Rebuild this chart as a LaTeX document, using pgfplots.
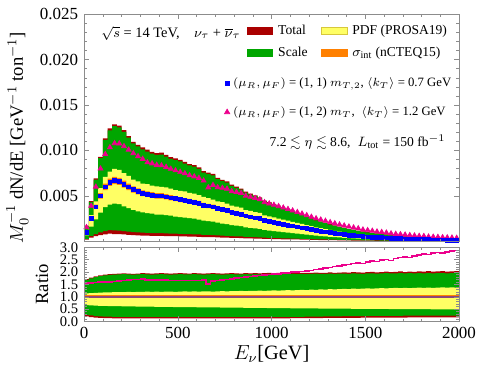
\documentclass[border=0pt]{standalone}
\usepackage{amssymb}
\usepackage{fontspec}
\setmainfont{Liberation Serif}
\usepackage{pgfplots}
\usepackage{pgfplotstable}
\pgfplotsset{compat=1.18}
\usepgfplotslibrary{fillbetween}

\definecolor{tred}{RGB}{170,0,0}
\definecolor{sgreen}{RGB}{0,166,0}
\definecolor{pyel}{RGB}{255,255,100}
\definecolor{pyeldark}{RGB}{215,200,60}
\definecolor{iorange}{RGB}{255,128,0}
\definecolor{cpurple}{RGB}{140,70,120}

% bin left edge, central value, band ratios (total/scale/pdf up & down), magenta ratio
\pgfplotstableread{
E c tu su pu pl sl tl m
0 0.0010 1.71 1.68 1.14 0.66 0.27 0.20 1.55
25 0.0025 1.77 1.74 1.15 0.65 0.24 0.17 1.56
50 0.0038 1.82 1.79 1.16 0.64 0.21 0.15 1.58
75 0.0050 1.86 1.83 1.17 0.63 0.20 0.14 1.60
100 0.0060 1.89 1.86 1.18 0.63 0.19 0.13 1.60
125 0.0065 1.91 1.88 1.18 0.62 0.19 0.13 1.59
150 0.0067 1.92 1.89 1.19 0.62 0.18 0.12 1.61
175 0.0066 1.93 1.90 1.19 0.62 0.18 0.12 1.63
200 0.0063 1.94 1.91 1.19 0.61 0.18 0.12 1.66
225 0.0060 1.93 1.90 1.20 0.61 0.18 0.12 1.68
250 0.0057 1.92 1.89 1.19 0.61 0.18 0.12 1.70
275 0.0055 1.93 1.90 1.20 0.60 0.18 0.12 1.70
300 0.0053 1.95 1.91 1.20 0.60 0.18 0.12 1.71
325 0.0052 1.94 1.90 1.21 0.60 0.18 0.12 1.67
350 0.0051 1.93 1.89 1.20 0.60 0.18 0.12 1.68
375 0.0050 1.94 1.90 1.21 0.59 0.18 0.12 1.68
400 0.0050 1.95 1.91 1.20 0.59 0.18 0.12 1.67
425 0.0049 1.94 1.90 1.21 0.59 0.18 0.12 1.67
450 0.0048 1.93 1.89 1.21 0.59 0.18 0.12 1.66
475 0.0047 1.94 1.90 1.20 0.58 0.18 0.12 1.66
500 0.0046 1.95 1.91 1.21 0.58 0.18 0.12 1.66
525 0.0045 1.94 1.90 1.22 0.58 0.18 0.12 1.66
550 0.0044 1.93 1.90 1.21 0.58 0.18 0.12 1.65
575 0.0043 1.95 1.91 1.22 0.58 0.18 0.12 1.66
600 0.0042 1.94 1.90 1.21 0.57 0.18 0.12 1.66
625 0.0040 1.93 1.89 1.22 0.57 0.18 0.12 1.67
650 0.0039 1.94 1.90 1.22 0.57 0.18 0.12 1.52
675 0.0038 1.95 1.91 1.21 0.57 0.18 0.12 1.63
700 0.0036 1.94 1.90 1.22 0.57 0.18 0.12 1.65
725 0.0035 1.93 1.89 1.23 0.56 0.18 0.12 1.68
750 0.0034 1.94 1.90 1.22 0.56 0.18 0.12 1.70
775 0.0032 1.95 1.91 1.23 0.56 0.18 0.12 1.72
800 0.0031 1.94 1.90 1.23 0.56 0.18 0.12 1.75
825 0.0030 1.93 1.90 1.24 0.56 0.18 0.12 1.77
850 0.0028 1.95 1.91 1.23 0.55 0.18 0.12 1.79
875 0.0027 1.94 1.90 1.24 0.55 0.18 0.12 1.81
900 0.0026 1.95 1.91 1.24 0.55 0.18 0.12 1.83
925 0.0025 1.94 1.90 1.25 0.55 0.18 0.12 1.85
950 0.0023 1.95 1.91 1.24 0.55 0.18 0.12 1.87
975 0.0022 1.96 1.92 1.25 0.54 0.18 0.12 1.89
1000 0.0021 1.95 1.91 1.26 0.54 0.18 0.12 1.91
1025 0.0020 1.96 1.92 1.25 0.54 0.18 0.12 1.93
1050 0.0019 1.95 1.91 1.26 0.54 0.18 0.12 1.95
1075 0.0018 1.97 1.92 1.27 0.54 0.18 0.12 1.97
1100 0.0017 1.96 1.92 1.26 0.53 0.18 0.13 1.99
1125 0.0016 1.95 1.91 1.27 0.53 0.18 0.13 2.01
1150 0.0015 1.97 1.92 1.28 0.53 0.18 0.13 2.03
1175 0.0014 1.96 1.91 1.27 0.53 0.19 0.13 2.05
1200 0.0013 1.97 1.92 1.29 0.53 0.19 0.13 2.07
1225 0.0012 1.98 1.93 1.28 0.53 0.19 0.13 2.10
1250 0.00112 1.96 1.92 1.30 0.52 0.19 0.13 2.13
1275 0.00104 1.97 1.92 1.29 0.52 0.20 0.14 2.16
1300 0.00096 1.99 1.93 1.31 0.52 0.20 0.14 2.19
1325 0.00089 1.97 1.92 1.30 0.52 0.20 0.14 2.22
1350 0.00082 1.98 1.93 1.31 0.52 0.20 0.14 2.25
1375 0.00076 1.99 1.93 1.32 0.52 0.21 0.14 2.28
1400 0.00070 1.98 1.92 1.31 0.52 0.21 0.14 2.31
1425 0.00065 2.00 1.94 1.33 0.51 0.21 0.14 2.34
1450 0.00060 1.99 1.93 1.32 0.51 0.21 0.14 2.37
1475 0.00055 1.98 1.92 1.33 0.51 0.21 0.15 2.34
1500 0.00051 2.00 1.94 1.34 0.51 0.21 0.15 2.40
1525 0.00047 2.01 1.94 1.33 0.51 0.22 0.15 2.45
1550 0.00044 1.99 1.93 1.34 0.51 0.22 0.15 2.42
1575 0.00041 2.00 1.94 1.35 0.51 0.22 0.15 2.48
1600 0.00038 2.02 1.95 1.34 0.51 0.22 0.15 2.51
1625 0.00035 2.00 1.94 1.35 0.50 0.22 0.15 2.47
1650 0.00032 2.01 1.94 1.36 0.50 0.22 0.15 2.54
1675 0.00030 2.03 1.95 1.35 0.50 0.22 0.15 2.58
1700 0.00028 2.00 1.94 1.36 0.50 0.23 0.15 2.61
1725 0.00026 2.02 1.95 1.35 0.50 0.23 0.16 2.58
1750 0.00024 2.01 1.94 1.36 0.50 0.23 0.16 2.64
1775 0.00022 2.03 1.95 1.37 0.50 0.23 0.16 2.68
1800 0.00021 2.02 1.94 1.36 0.50 0.23 0.16 2.72
1825 0.00019 2.04 1.95 1.37 0.50 0.23 0.16 2.70
1850 0.00018 2.02 1.94 1.36 0.49 0.23 0.16 2.76
1875 0.00017 2.03 1.95 1.37 0.49 0.23 0.16 2.79
1900 0.00016 2.04 1.95 1.38 0.49 0.23 0.16 2.77
1925 0.00015 2.02 1.94 1.37 0.49 0.23 0.16 2.82
1950 0.00014 2.03 1.95 1.38 0.49 0.23 0.16 2.85
1975 0.00013 2.04 1.95 1.37 0.49 0.23 0.16 2.88
2000 0.00013 2.04 1.95 1.37 0.49 0.23 0.16 2.88
}\spec

\pgfplotsset{
  frame/.style={
    scale only axis, width=221pt, xmin=0, xmax=2000,
    axis line style={black!45}, tick style={black!45},
    major tick length=3pt, minor tick length=1.6pt,
    xtick={0,500,...,2000}, minor x tick num=4,
    tick label style={font=\fontsize{10}{12}\selectfont},
    /pgf/number format/assume math mode=true,
    /pgf/number format/1000 sep={},
    label style={font=\fontsize{11}{13}\selectfont},
    axis on top,
  },
  band/.style={draw=none, forget plot, const plot mark left},
}

\begin{document}
\begin{tikzpicture}
\begin{axis}[frame, name=main, height=134pt,
  ymin=0, ymax=0.025,
  ytick={0.005,0.01,0.015,0.02,0.025}, minor y tick num=4,
  scaled y ticks=false,
  yticklabel style={/pgf/number format/fixed, /pgf/number format/precision=3,
                    /pgf/number format/fixed zerofill},
  xticklabels={},
  ylabel={$M_0^{-1}$ dN/dE [GeV$^{-1}$ ton$^{-1}$]},
  ylabel style={xshift=-6pt},
  legend image code/.code={\filldraw[#1] (0pt,-2.2pt) rectangle (15pt,2.2pt);},
  legend columns=2,
  legend cell align=left,
  legend style={at={(0.42,0.985)}, anchor=north west, draw=none, fill=none,
                font=\fontsize{8}{9.6}\selectfont, row sep=2pt,
                /tikz/every odd column/.append style={column sep=1pt},
                /tikz/every even column/.append style={column sep=6pt}},
]
\addplot[band, name path=Atu] table[x=E, y expr=\thisrow{c}*\thisrow{tu}] {\spec};
\addplot[band, name path=Atl] table[x=E, y expr=\thisrow{c}*\thisrow{tl}] {\spec};
\addplot[fill=tred, draw=none, forget plot] fill between[of=Atu and Atl];
\addplot[band, name path=Asu] table[x=E, y expr=\thisrow{c}*\thisrow{su}] {\spec};
\addplot[band, name path=Asl] table[x=E, y expr=\thisrow{c}*\thisrow{sl}] {\spec};
\addplot[fill=sgreen, draw=none, forget plot] fill between[of=Asu and Asl];
\addplot[band, name path=Apu] table[x=E, y expr=\thisrow{c}*\thisrow{pu}] {\spec};
\addplot[band, name path=Apl] table[x=E, y expr=\thisrow{c}*\thisrow{pl}] {\spec};
\addplot[fill=pyel, draw=none, forget plot] fill between[of=Apu and Apl];
\addplot[band, name path=Aiu] table[x=E, y expr=\thisrow{c}*1.06] {\spec};
\addplot[band, name path=Ail] table[x=E, y expr=\thisrow{c}*0.94] {\spec};
\addplot[fill=iorange, draw=none, forget plot] fill between[of=Aiu and Ail];

\addplot[only marks, mark=triangle*, mark size=1.7pt, color=magenta, forget plot,
  skip coords between index={80}{81}]
  table[x expr=\thisrow{E}+12.5, y expr=\thisrow{c}*\thisrow{m}] {\spec};
\addplot[only marks, mark=square*, mark size=1.1pt, color=blue, forget plot,
  skip coords between index={80}{81}]
  table[x expr=\thisrow{E}+12.5, y=c] {\spec};

\addlegendimage{fill=tred, draw=tred}\addlegendentry{Total}
\addlegendimage{fill=pyel, draw=pyeldark}\addlegendentry{PDF (PROSA19)}
\addlegendimage{fill=sgreen, draw=sgreen}\addlegendentry{Scale}
\addlegendimage{fill=iorange, draw=iorange}\addlegendentry{$\sigma_{\mathrm{int}}$ (nCTEQ15)}

\node[anchor=west, font=\fontsize{8.5}{10}\selectfont] at (rel axis cs:0.03,0.916)
  {$\sqrt{s}$ = 14 TeV,\quad$\nu_\tau$ + $\overline{\nu}_\tau$};
\node[anchor=east, font=\fontsize{8}{10}\selectfont] at (rel axis cs:0.98,0.436)
  {7.2 $\lesssim\eta\lesssim$ 8.6,\; $L_{\mathrm{tot}}$ = 150 fb$^{-1}$};
\end{axis}

\begin{axis}[at={(main.south west)}, anchor=south west, scale only axis,
  width=221pt, height=134pt, hide axis, xmin=0, xmax=1, ymin=0, ymax=1,
  legend cell align=left,
  legend image code/.code={\draw[#1] plot coordinates {(3pt,0pt)};},
  legend style={at={(0.36,0.75)}, anchor=north west, draw=none, fill=none,
                font=\fontsize{7.5}{9}\selectfont, row sep=6pt,
                /tikz/every odd column/.append style={column sep=0pt}},
]
\addplot[draw=none, forget plot] coordinates {(0,0)};
\addlegendimage{only marks, mark=square*, mark size=1.2pt, blue}
\addlegendentry{$(\mu_R,\mu_F)$ = (1, 1) $m_{T,2}$, $\langle k_T\rangle$ = 0.7 GeV}
\addlegendimage{only marks, mark=triangle*, mark size=1.8pt, magenta}
\addlegendentry{$(\mu_R,\mu_F)$ = (1, 2) $m_T$,\; $\langle k_T\rangle$ = 1.2 GeV}
\end{axis}

\begin{axis}[frame, name=ratio, at={(main.south west)}, anchor=north west,
  yshift=-3.5pt, height=43.7pt,
  ymin=0, ymax=3, ytick={0,0.5,...,3}, minor y tick num=4,
  yticklabel style={font=\fontsize{8.6}{9}\selectfont,
                    /pgf/number format/fixed, /pgf/number format/precision=1,
                    /pgf/number format/fixed zerofill},
  ylabel={Ratio},
  xlabel={$E_\nu$[GeV]},
  xlabel style={font=\fontsize{12}{14}\selectfont, yshift=3pt},
]
\addplot[band, name path=Btu] table[x=E, y=tu] {\spec};
\addplot[band, name path=Btl] table[x=E, y=tl] {\spec};
\addplot[fill=tred, draw=none] fill between[of=Btu and Btl];
\addplot[band, name path=Bsu] table[x=E, y=su] {\spec};
\addplot[band, name path=Bsl] table[x=E, y=sl] {\spec};
\addplot[fill=sgreen, draw=none] fill between[of=Bsu and Bsl];
\addplot[band, name path=Bpu] table[x=E, y=pu] {\spec};
\addplot[band, name path=Bpl] table[x=E, y=pl] {\spec};
\addplot[fill=pyel, draw=none] fill between[of=Bpu and Bpl];
\addplot[fill=iorange, draw=none] coordinates {(0,0.94) (2000,0.94) (2000,1.06) (0,1.06)} -- cycle;
\addplot[cpurple, line width=1.1pt] coordinates {(0,1) (2000,1)};
\addplot[magenta, line width=0.9pt, const plot mark left] table[x=E, y=m] {\spec};
\end{axis}

\path ([shift={(-49.6pt,-30.1pt)}]ratio.south west) rectangle ([shift={(23pt,8.3pt)}]main.north east);
\end{tikzpicture}
\end{document}
